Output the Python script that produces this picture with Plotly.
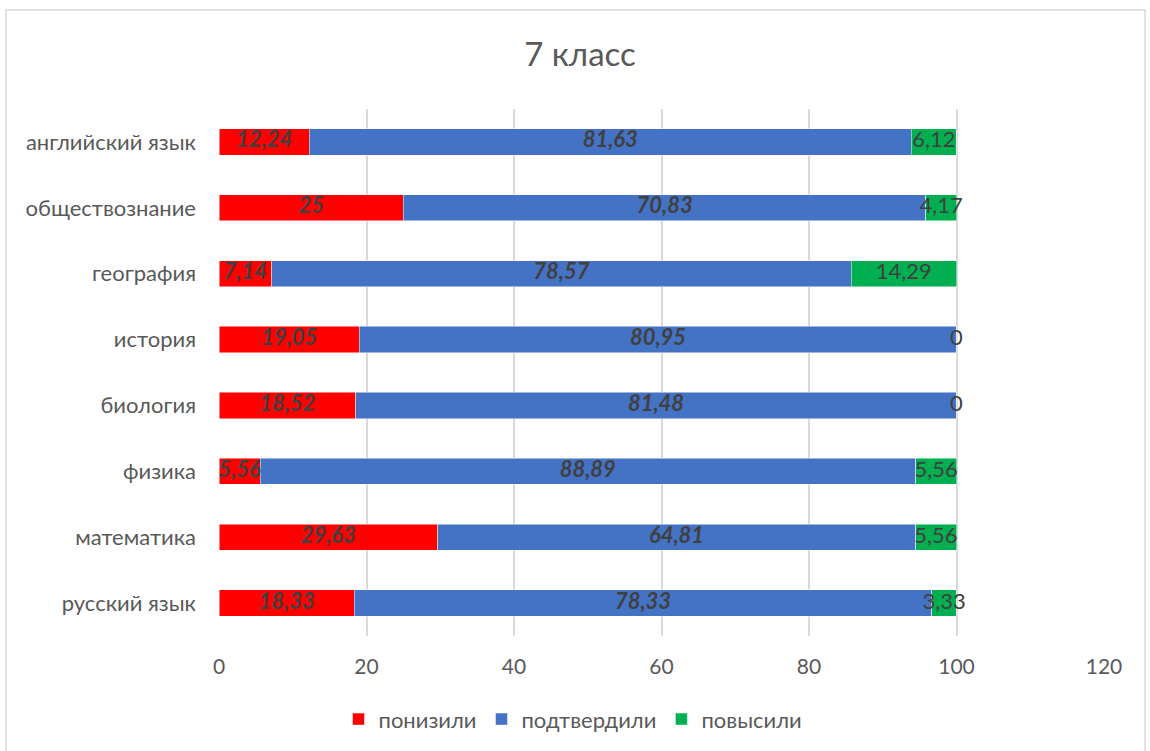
import plotly.graph_objects as go

categories = ["русский язык", "математика", "физика", "биология", "история",
              "география", "обществознание", "английский язык"]
lowered = [18.33, 29.63, 5.56, 18.52, 19.05, 7.14, 25, 12.24]
confirmed = [78.33, 64.81, 88.89, 81.48, 80.95, 78.57, 70.83, 81.63]
raised = [3.33, 5.56, 5.56, 0, 0, 14.29, 4.17, 6.12]
series_names = ["понизили", "подтвердили", "повысили"]
colors = ["#FF0000", "#4472C4", "#00B050"]
x_ticks = [0, 20, 40, 60, 80, 100, 120]
title_text = "7 класс"

FONT = "Lato, 'Open Sans', sans-serif"
TXT = "#404040"


def fmt(v):
    s = ("%.2f" % v).rstrip("0").rstrip(".")
    return s.replace(".", ",")


fig = go.Figure()
series = [lowered, confirmed, raised]
starts = [[0] * len(categories),
          lowered,
          [a + b for a, b in zip(lowered, confirmed)]]

for name, vals, col in zip(series_names, series, colors):
    fig.add_trace(go.Bar(
        y=categories, x=vals, name=name, orientation="h",
        marker=dict(color=col, line=dict(color="rgba(255,255,255,0.6)", width=0.8)),
        hoverinfo="x+y",
    ))

for i, (vals, st) in enumerate(zip(series, starts)):
    mids = [s + v / 2 for s, v in zip(st, vals)]
    bold = i < 2
    fig.add_trace(go.Scatter(
        y=categories, x=mids, mode="text", text=[fmt(v) for v in vals],
        textposition="middle center", showlegend=False, hoverinfo="skip",
        textfont=dict(family=FONT, size=22, color=TXT,
                      weight="bold" if bold else "normal",
                      style="italic" if bold else "normal"),
    ))

fig.update_layout(
    barmode="stack",
    bargap=0.6,
    width=1150, height=751,
    paper_bgcolor="white", plot_bgcolor="white",
    margin=dict(l=219, r=46, t=109, b=115, autoexpand=False),
    title=dict(text=title_text, x=580 / 1150, xanchor="center", xref="container",
               y=1 - 54 / 751, yanchor="middle",
               font=dict(family=FONT, size=33, color="#595959")),
    font=dict(family=FONT, size=21, color="#595959"),
    xaxis=dict(range=[0, 120], tickvals=x_ticks, showgrid=True,
               gridcolor="#D9D9D9", gridwidth=1.5, zeroline=False,
               showline=False, ticks="", ticklabelstandoff=16, automargin=False,
               tickfont=dict(size=21, color="#595959")),
    yaxis=dict(categoryorder="array", categoryarray=categories, showgrid=False,
               zeroline=False, showline=False, ticks="", ticklabelstandoff=22,
               automargin=False,
               tickfont=dict(size=22, color="#595959")),
    legend=dict(orientation="h", x=0.40, xanchor="center", y=-0.158,
                yanchor="middle", font=dict(size=22, color="#595959"),
                traceorder="normal", itemwidth=30),
    showlegend=True,
    shapes=[dict(type="rect", xref="paper", yref="paper",
                 x0=(6 - 219) / 885, x1=(1145 - 219) / 885,
                 y0=(636 - 770) / 527, y1=(636 - 10) / 527,
                 line=dict(color="#D9D9D9", width=1.5), fillcolor="rgba(0,0,0,0)",
                 layer="below")],
)

fig.write_html("out.html", config={"displayModeBar": False},
               post_script="document.body.style.margin='0';document.body.style.overflow='hidden';")
